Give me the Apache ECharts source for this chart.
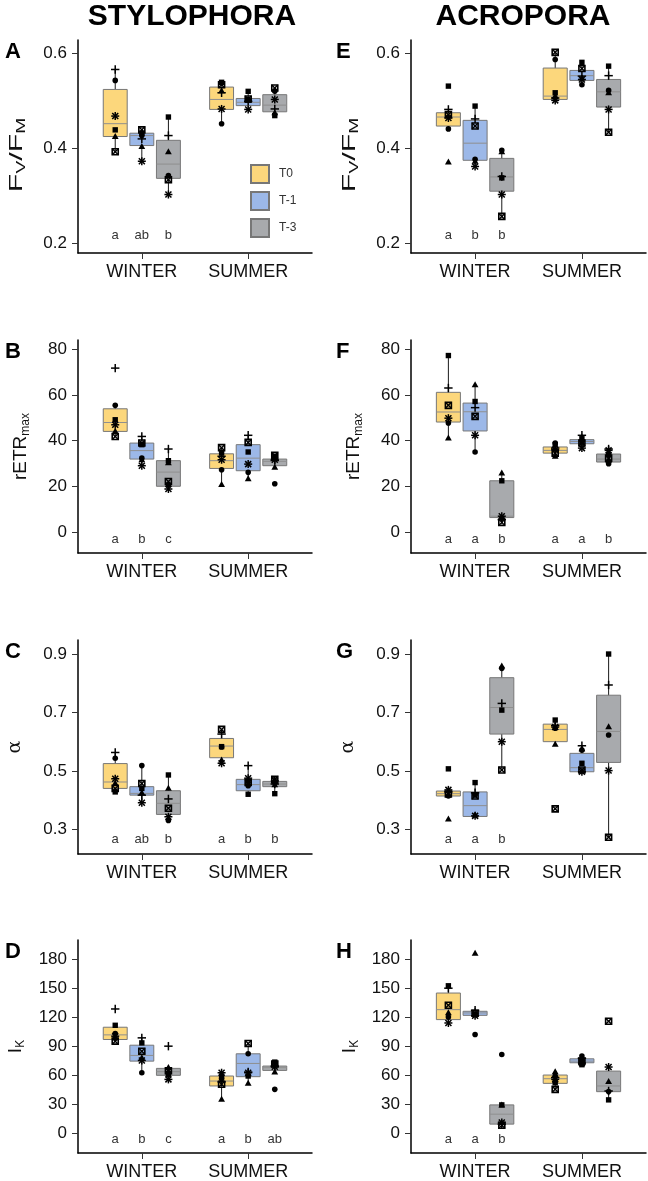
<!DOCTYPE html>
<html>
<head>
<meta charset="utf-8">
<script src="https://cdn.jsdelivr.net/npm/echarts@6/dist/echarts.min.js"></script>
<style>
  html, body { margin: 0; padding: 0; background: #fff; }
  #chart { width: 648px; height: 1181px; }
</style>
</head>
<body>
<div id="chart"></div>
<script>
// categories
const seasons = ['WINTER', 'SUMMER'];
const groups = ['T0', 'T-1', 'T-3'];
// one marker per colony, same order in every *Pts row
const shapes = ['circle', 'triangle', 'square', 'plus', 'asterisk', 'squareCross'];

// box stats [low whisker, Q1, median, Q3, high whisker]
// rows: W-T0, W-T-1, W-T-3, S-T0, S-T-1, S-T-3
const fvfmStyloBox = [[0.392, 0.424, 0.451, 0.523, 0.565], [0.372, 0.405, 0.426, 0.431, 0.438], [0.302, 0.336, 0.366, 0.416, 0.465],
  [0.451, 0.481, 0.502, 0.528, 0.540], [0.481, 0.489, 0.496, 0.504, 0.519], [0.467, 0.476, 0.490, 0.512, 0.526]];
const fvfmStyloPts = [[0.542, 0.424, 0.438, 0.565, 0.467, 0.392], [0.426, 0.403, 0.431, 0.419, 0.372, 0.438], [0.342, 0.392, 0.465, 0.426, 0.302, 0.333],
  [0.451, 0.520, 0.538, 0.516, 0.482, 0.533], [0.502, 0.500, 0.519, 0.498, 0.481, 0.503], [0.519, 0.474, 0.468, 0.482, 0.502, 0.526]];
const fvfmStyloSig = ['a', 'ab', 'b', '', '', ''];

const fvfmAcroBox = [[0.440, 0.446, 0.465, 0.474, 0.481], [0.361, 0.374, 0.410, 0.458, 0.488], [0.256, 0.309, 0.339, 0.378, 0.395],
  [0.500, 0.502, 0.509, 0.568, 0.601], [0.533, 0.542, 0.552, 0.563, 0.580], [0.433, 0.486, 0.518, 0.544, 0.572]];
const fvfmAcroPts = [[0.440, 0.370, 0.530, 0.481, 0.463, 0.470], [0.376, 0.372, 0.488, 0.461, 0.361, 0.446], [0.395, 0.392, 0.337, 0.340, 0.302, 0.256],
  [0.586, 0.509, 0.516, 0.505, 0.500, 0.601], [0.533, 0.547, 0.580, 0.551, 0.544, 0.567], [0.521, 0.516, 0.572, 0.552, 0.481, 0.433]];
const fvfmAcroSig = ['a', 'b', 'b', '', '', ''];

const etrStyloBox = [[41.8, 44.0, 47.9, 53.9, 55.4], [29.0, 31.9, 35.6, 38.9, 41.8], [18.8, 20.0, 26.2, 31.2, 36.3],
  [20.7, 27.8, 31.2, 34.2, 37.2], [22.9, 26.8, 32.3, 38.2, 42.5], [28.0, 29.0, 30.9, 31.9, 33.5]];
const etrStyloPts = [[55.4, 44.0, 49.1, 71.7, 46.9, 41.8], [32.3, 31.6, 38.2, 41.8, 29.0, 38.9], [20.7, 30.2, 31.2, 36.3, 18.8, 22.1],
  [27.2, 20.7, 34.5, 33.1, 31.6, 36.9], [26.1, 23.2, 35.0, 42.3, 29.7, 39.2], [21.1, 28.3, 33.1, 31.3, 31.6, 33.5]];
const etrStyloSig = ['a', 'b', 'c', '', '', ''];

const etrAcroBox = [[41.1, 48.1, 52.5, 61.1, 77.2], [35.0, 44.2, 52.6, 56.4, 64.4], [3.9, 6.3, 6.9, 22.4, 25.8],
  [32.3, 34.5, 35.7, 37.2, 38.9], [36.4, 38.6, 39.6, 40.4, 43.0], [29.4, 30.6, 31.9, 34.1, 36.7]];
const etrAcroPts = [[47.7, 41.1, 77.2, 63.0, 49.8, 55.4], [35.0, 64.4, 57.1, 54.4, 42.3, 50.6], [6.1, 25.8, 22.4, 5.4, 6.9, 4.2],
  [38.9, 33.1, 38.2, 36.7, 36.0, 34.5], [39.8, 39.2, 40.8, 42.3, 36.7, 38.9], [29.9, 31.3, 33.8, 36.3, 35.7, 32.3]];
const etrAcroSig = ['a', 'a', 'b', 'a', 'a', 'b'];

const alphaStyloBox = [[0.428, 0.440, 0.462, 0.525, 0.563], [0.389, 0.417, 0.423, 0.446, 0.518], [0.330, 0.351, 0.389, 0.432, 0.486],
  [0.524, 0.545, 0.585, 0.611, 0.642], [0.420, 0.432, 0.453, 0.471, 0.518], [0.422, 0.446, 0.455, 0.464, 0.477]];
const alphaStyloPts = [[0.543, 0.457, 0.428, 0.563, 0.473, 0.440], [0.518, 0.425, 0.440, 0.417, 0.391, 0.457], [0.330, 0.440, 0.486, 0.404, 0.343, 0.372],
  [0.582, 0.537, 0.583, 0.626, 0.526, 0.642], [0.449, 0.465, 0.420, 0.518, 0.475, 0.460], [0.460, 0.452, 0.422, 0.455, 0.466, 0.471]];
const alphaStyloSig = ['a', 'ab', 'b', 'a', 'b', 'b'];

const alphaAcroBox = [[0.414, 0.414, 0.422, 0.431, 0.440], [0.344, 0.344, 0.381, 0.428, 0.460], [0.503, 0.626, 0.717, 0.819, 0.855],
  [0.591, 0.600, 0.642, 0.660, 0.674], [0.497, 0.497, 0.511, 0.560, 0.586], [0.273, 0.529, 0.635, 0.759, 0.900]];
const alphaAcroPts = [[0.414, 0.335, 0.507, 0.428, 0.435, 0.421], [0.418, 0.349, 0.460, 0.425, 0.346, 0.414], [0.851, 0.859, 0.708, 0.731, 0.600, 0.503],
  [0.646, 0.591, 0.674, 0.655, 0.650, 0.370], [0.571, 0.575, 0.526, 0.586, 0.497, 0.503], [0.623, 0.651, 0.900, 0.794, 0.501, 0.273]];
const alphaAcroSig = ['a', 'a', 'b', '', '', ''];

const ikStyloBox = [[95.2, 96.9, 101.7, 109.6, 111.6], [62.5, 74.5, 80.4, 91.0, 98.6], [55.6, 59.8, 63.6, 67.0, 69.4],
  [35.0, 48.8, 53.9, 59.1, 63.2], [51.5, 58.4, 72.1, 82.1, 92.7], [62.5, 64.9, 67.7, 69.4, 73.9]];
const ikStyloPts = [[103.1, 98.6, 111.6, 128.5, 100.3, 95.2], [62.5, 78.0, 93.4, 98.6, 75.2, 84.8], [62.5, 67.7, 60.5, 90.0, 55.6, 64.5],
  [56.3, 35.0, 59.1, 53.0, 62.5, 50.5], [82.1, 51.5, 59.1, 63.2, 62.5, 92.7], [45.3, 63.2, 73.5, 69.4, 68.7, 71.5]];
const ikStyloSig = ['a', 'b', 'c', 'a', 'b', 'ab'];

const ikAcroBox = [[113.4, 117.5, 127.8, 145.0, 152.5], [120.2, 121.9, 124.4, 126.1, 129.5], [7.6, 9.3, 19.6, 29.2, 29.2],
  [45.3, 51.5, 56.3, 60.1, 63.5], [70.1, 72.8, 74.5, 76.9, 80.4], [34.4, 42.9, 48.8, 64.2, 68.4]];
const ikAcroPts = [[120.2, 124.4, 152.5, 150.0, 114.0, 132.3], [102.0, 186.2, 122.6, 127.1, 121.5, 124.0], [81.4, 28.9, 29.2, 9.3, 11.0, 8.2],
  [59.1, 63.5, 52.2, 57.5, 55.6, 45.3], [79.7, 76.0, 70.8, 77.5, 72.5, 74.5], [43.0, 53.2, 34.4, 43.6, 68.4, 115.8]];
const ikAcroSig = ['a', 'a', 'b', '', '', ''];

// tick labels
const fvfmTicks = [0.2, 0.4, 0.6];
const etrTicks = [0, 20, 40, 60, 80];
const alphaTicks = [0.3, 0.5, 0.7, 0.9];
const ikTicks = [0, 30, 60, 90, 120, 150, 180];

const FONT = '"Liberation Sans", Arial, sans-serif';
const fills = ['#fcd77c', '#9cb8e8', '#a8aaad'];
const BOX_W = 0.225;

const titleRich = {
  m: { fontSize: 19, lineHeight: 22, fontFamily: FONT, fill: '#111', color: '#111' },
  s: { fontSize: 12, lineHeight: 10, verticalAlign: 'bottom', fontFamily: FONT, fill: '#111', color: '#111' },
  g: { fontSize: 19, lineHeight: 22, fontFamily: '"DejaVu Serif", serif', fill: '#111', color: '#111' }
};

// stretch: the Fv/Fm title is drawn wider than its font along the axis
const metrics = {
  fvfm: { min: 0.179, max: 0.627, ticks: fvfmTicks, dec: 1, sigY: 0.215, name: '{m|F}{s|V}{m|/F}{s|M}', stretch: 1.6 },
  etr: { min: -9.2, max: 84, ticks: etrTicks, dec: 0, sigY: -3.4, name: '{m|rETR}{s|max}', stretch: 1 },
  alpha: { min: 0.2155, max: 0.948, ticks: alphaTicks, dec: 1, sigY: 0.266, name: '{g|α}', stretch: 1 },
  ik: { min: -20.6, max: 199.9, ticks: ikTicks, dec: 0, sigY: -6.2, name: '{m|I}{s|K}', stretch: 1 }
};

const panels = [
  { tag: 'A', col: 0, row: 0, m: 'fvfm', box: fvfmStyloBox, pts: fvfmStyloPts, sig: fvfmStyloSig, gap: 50 },
  { tag: 'B', col: 0, row: 1, m: 'etr', box: etrStyloBox, pts: etrStyloPts, sig: etrStyloSig, gap: 46 },
  { tag: 'C', col: 0, row: 2, m: 'alpha', box: alphaStyloBox, pts: alphaStyloPts, sig: alphaStyloSig, gap: 52 },
  { tag: 'D', col: 0, row: 3, m: 'ik', box: ikStyloBox, pts: ikStyloPts, sig: ikStyloSig, gap: 51 },
  { tag: 'E', col: 1, row: 0, m: 'fvfm', box: fvfmAcroBox, pts: fvfmAcroPts, sig: fvfmAcroSig, gap: 50 },
  { tag: 'F', col: 1, row: 1, m: 'etr', box: etrAcroBox, pts: etrAcroPts, sig: etrAcroSig, gap: 46 },
  { tag: 'G', col: 1, row: 2, m: 'alpha', box: alphaAcroBox, pts: alphaAcroPts, sig: alphaAcroSig, gap: 52 },
  { tag: 'H', col: 1, row: 3, m: 'ik', box: ikAcroBox, pts: ikAcroPts, sig: ikAcroSig, gap: 50 }
];

const colLeft = [78, 411], colWidth = [234, 235];
const rowTop = [40, 340, 640, 940], rowHeight = [213, 213, 214, 214];

// season 1/2 with dodge offset per treatment
function xPos(i) {
  return (i < 3 ? 1 : 2) + ((i % 3) - 1) * 0.25;
}

function renderBox(params, api) {
  const x = api.value(0);
  const lo = api.coord([x, api.value(1)]);
  const q1 = api.coord([x, api.value(2)]);
  const md = api.coord([x, api.value(3)]);
  const q3 = api.coord([x, api.value(4)]);
  const hi = api.coord([x, api.value(5)]);
  const w = api.size([BOX_W, 0], [x, api.value(3)])[0];
  const cx = lo[0];
  return {
    type: 'group',
    children: [
      { type: 'line', shape: { x1: cx, y1: hi[1], x2: cx, y2: lo[1] }, style: { stroke: '#1a1a1a', lineWidth: 1 } },
      { type: 'rect', shape: { x: cx - w / 2, y: q3[1], width: w, height: q1[1] - q3[1] },
        style: { fill: api.visual('color'), stroke: '#777', lineWidth: 1 } },
      { type: 'line', shape: { x1: cx - w / 2, y1: md[1], x2: cx + w / 2, y2: md[1] }, style: { stroke: '#8f8f8f', lineWidth: 1 } }
    ]
  };
}

function renderPoint(params, api) {
  const p = api.coord([api.value(0), api.value(1)]);
  const x = p[0], y = p[1];
  const ink = { stroke: '#000', lineWidth: 1.5 };
  switch (shapes[api.value(2)]) {
    case 'circle':
      return { type: 'circle', shape: { cx: x, cy: y, r: 2.8 }, style: { fill: '#000' } };
    case 'triangle':
      return { type: 'polygon', shape: { points: [[x, y - 3.6], [x - 3.4, y + 2.4], [x + 3.4, y + 2.4]] }, style: { fill: '#000' } };
    case 'square':
      return { type: 'rect', shape: { x: x - 2.7, y: y - 2.7, width: 5.4, height: 5.4 }, style: { fill: '#000' } };
    case 'plus':
      return { type: 'group', children: [
        { type: 'line', shape: { x1: x - 4.2, y1: y, x2: x + 4.2, y2: y }, style: ink },
        { type: 'line', shape: { x1: x, y1: y - 4.2, x2: x, y2: y + 4.2 }, style: ink }
      ] };
    case 'asterisk':
      return { type: 'group', children: [
        { type: 'line', shape: { x1: x - 4, y1: y, x2: x + 4, y2: y }, style: ink },
        { type: 'line', shape: { x1: x, y1: y - 4, x2: x, y2: y + 4 }, style: ink },
        { type: 'line', shape: { x1: x - 3, y1: y - 3, x2: x + 3, y2: y + 3 }, style: ink },
        { type: 'line', shape: { x1: x - 3, y1: y + 3, x2: x + 3, y2: y - 3 }, style: ink }
      ] };
    default:
      return { type: 'group', children: [
        { type: 'rect', shape: { x: x - 3, y: y - 3, width: 6, height: 6 }, style: { fill: 'none', stroke: '#000', lineWidth: 1.6 } },
        { type: 'line', shape: { x1: x - 3, y1: y - 3, x2: x + 3, y2: y + 3 }, style: { stroke: '#000', lineWidth: 1.4 } },
        { type: 'line', shape: { x1: x - 3, y1: y + 3, x2: x + 3, y2: y - 3 }, style: { stroke: '#000', lineWidth: 1.4 } }
      ] };
  }
}

const grid = [], xAxis = [], yAxis = [], series = [], graphic = [];

panels.forEach(function (pn, p) {
  const mt = metrics[pn.m];
  grid.push({ left: colLeft[pn.col], top: rowTop[pn.row], width: colWidth[pn.col], height: rowHeight[pn.row] });
  xAxis.push({
    gridIndex: p, type: 'value', min: 0.4, max: 2.6,
    splitLine: { show: false },
    axisLine: { show: true, onZero: false, lineStyle: { color: '#000', width: 1.5 } },
    axisTick: { show: true, customValues: [1, 2], length: 6, lineStyle: { color: '#333' } },
    axisLabel: { customValues: [1, 2], formatter: function (v) { return seasons[Math.round(v) - 1]; },
      fontSize: 18, color: '#111', fontFamily: FONT, margin: 10 }
  });
  const y = {
    gridIndex: p, type: 'value', min: mt.min, max: mt.max,
    splitLine: { show: false },
    axisLine: { show: true, onZero: false, lineStyle: { color: '#000', width: 1.5 } },
    axisTick: { show: true, customValues: mt.ticks, length: 6, lineStyle: { color: '#333' } },
    axisLabel: { customValues: mt.ticks, formatter: function (v) { return v.toFixed(mt.dec); },
      fontSize: 17, color: '#111', fontFamily: FONT, margin: 11 }
  };
  if (mt.stretch === 1) {
    y.name = mt.name;
    y.nameLocation = 'middle';
    y.nameRotate = 90;
    y.nameGap = pn.gap;
    y.nameTextStyle = { color: '#111', rich: titleRich };
  } else {
    graphic.push({
      type: 'text', x: colLeft[pn.col] - pn.gap - 11, y: rowTop[pn.row] + 115,
      rotation: Math.PI / 2, scaleX: mt.stretch,
      style: { text: mt.name, rich: titleRich, align: 'center', verticalAlign: 'middle', fill: '#111' }
    });
  }
  yAxis.push(y);

  groups.forEach(function (g, gi) {
    series.push({
      type: 'custom', name: g, xAxisIndex: p, yAxisIndex: p, silent: true,
      itemStyle: { color: fills[gi], borderColor: '#777', borderWidth: 1 },
      renderItem: renderBox,
      data: [gi, gi + 3].map(function (i) { return [xPos(i)].concat(pn.box[i]); })
    });
  });

  const pts = [];
  pn.pts.forEach(function (row, i) {
    row.forEach(function (v, k) { pts.push([xPos(i), v, k]); });
  });
  series.push({ type: 'custom', name: 'pts' + p, xAxisIndex: p, yAxisIndex: p, silent: true, renderItem: renderPoint, data: pts });

  series.push({
    type: 'custom', name: 'sig' + p, xAxisIndex: p, yAxisIndex: p, silent: true,
    data: pn.sig.map(function (s, i) { return [xPos(i), i]; }),
    renderItem: function (params, api) {
      const c = api.coord([api.value(0), mt.sigY]);
      return { type: 'text', x: c[0], y: c[1],
        style: { text: pn.sig[api.value(1)], align: 'center', verticalAlign: 'middle', fontSize: 13, fontFamily: FONT, fill: '#333' } };
    }
  });

  graphic.push({ type: 'text', x: pn.col === 0 ? 5 : 336, y: rowTop[pn.row] + 1,
    style: { text: pn.tag, font: 'bold 22px ' + FONT, fill: '#000' } });
});

graphic.push({ type: 'text', x: 192, y: 2, style: { text: 'STYLOPHORA', font: 'bold 30px ' + FONT, fill: '#000', align: 'center' } });
graphic.push({ type: 'text', x: 523, y: 2, style: { text: 'ACROPORA', font: 'bold 30px ' + FONT, fill: '#000', align: 'center' } });

const chart = echarts.init(document.getElementById('chart'));
chart.setOption({
  animation: false,
  backgroundColor: '#fff',
  textStyle: { fontFamily: FONT },
  grid: grid,
  xAxis: xAxis,
  yAxis: yAxis,
  legend: {
    data: groups, orient: 'vertical', left: 250, top: 164, padding: 0,
    itemWidth: 18, itemHeight: 18, itemGap: 7, icon: 'rect', selectedMode: false,
    textStyle: { fontSize: 12, color: '#333', fontFamily: FONT, padding: [0, 0, 0, 5] }
  },
  graphic: graphic,
  series: series
});
</script>
</body>
</html>
